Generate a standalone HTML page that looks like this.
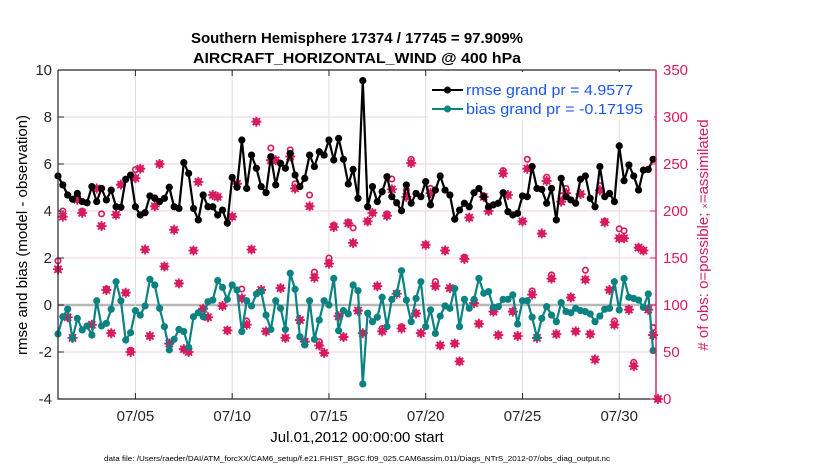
<!DOCTYPE html>
<html><head><meta charset="utf-8"><style>
html,body{margin:0;padding:0;background:#fff;}
svg{display:block;font-family:"Liberation Sans",Helvetica,Arial,sans-serif;}
</style></head><body>
<svg id="chart" width="830" height="470" viewBox="0 0 830 470" xmlns="http://www.w3.org/2000/svg">
<text x="357" y="43" text-anchor="middle" font-size="14.5" font-weight="bold" fill="#000" textLength="332" lengthAdjust="spacingAndGlyphs">Southern Hemisphere 17374 / 17745 = 97.909%</text>
<text x="357" y="63" text-anchor="middle" font-size="14.5" font-weight="bold" fill="#000" textLength="328" lengthAdjust="spacingAndGlyphs">AIRCRAFT_HORIZONTAL_WIND @ 400 hPa</text>
<g id="grid"></g>
<g id="marks"></g>
<g id="axes"></g>
<text transform="translate(27,235) rotate(-90)" text-anchor="middle" font-size="15" fill="#000">rmse and bias (model - observation)</text>
<text transform="translate(708,235) rotate(-90)" text-anchor="middle" font-size="15" fill="#d81b60"># of obs: o=possible; <tspan font-size="9">×</tspan>=assimilated</text>
<text x="357" y="442" text-anchor="middle" font-size="15" fill="#000">Jul.01,2012 00:00:00 start</text>
<text x="357" y="461" text-anchor="middle" font-size="7.5" fill="#000" textLength="506" lengthAdjust="spacingAndGlyphs">data file: /Users/raeder/DAI/ATM_forcXX/CAM6_setup/f.e21.FHIST_BGC.f09_025.CAM6assim.011/Diags_NTrS_2012-07/obs_diag_output.nc</text>
<g>
<rect x="428" y="72" width="226" height="48" fill="#fff"/>
<line x1="432" y1="90" x2="463" y2="90" stroke="#000" stroke-width="2"/>
<circle cx="447.5" cy="90" r="3.5" fill="#000"/>
<text x="466" y="95" font-size="15" fill="#1a56f0" textLength="167" lengthAdjust="spacingAndGlyphs">rmse grand pr = 4.9577</text>
<line x1="432" y1="109" x2="463" y2="109" stroke="#0b8282" stroke-width="2"/>
<circle cx="447.5" cy="109" r="3.5" fill="#0b8282"/>
<text x="466" y="114" font-size="15" fill="#1a56f0" textLength="177" lengthAdjust="spacingAndGlyphs">bias grand pr = -0.17195</text>
</g>
</svg>
<script>
var rmse=[5.49,5.11,4.68,4.50,4.75,4.40,4.35,5.04,4.40,4.96,4.47,4.89,4.18,4.16,5.35,5.53,4.18,3.83,3.93,4.64,4.54,4.40,4.54,5.01,4.18,4.11,6.06,5.60,4.11,3.62,4.68,4.18,4.18,3.83,4.04,3.48,5.43,5.01,7.02,4.96,6.38,5.82,5.04,
4.78,6.31,5.11,6.03,5.82,6.45,5.53,5.04,5.39,6.38,5.89,6.52,6.38,7.02,6.17,7.09,6.20,5.15,5.77,4.54,9.55,4.18,5.04,4.40,4.82,5.46,4.61,4.35,4.01,5.11,4.33,4.75,4.61,5.25,4.26,4.89,5.49,4.89,4.68,3.65,4.04,
4.33,4.18,4.78,4.96,4.61,4.18,4.26,4.33,4.78,3.97,3.83,3.90,4.64,4.61,5.89,4.96,4.92,4.33,4.96,3.62,5.39,4.61,4.47,4.33,5.35,5.49,4.54,4.18,5.89,4.61,4.75,4.40,6.77,5.29,5.96,5.49,4.89,5.74,5.77,6.20];
var bias=[-1.23,-0.50,-0.18,-1.42,-0.57,-1.06,-0.89,-1.28,0.18,-0.89,-0.78,-0.18,0.99,0.18,-1.49,-1.18,-0.24,-0.43,-0.04,1.09,0.85,-0.14,-0.92,-1.91,-1.46,-1.04,-1.13,-1.80,-0.50,-0.33,-0.50,0.14,0.21,1.04,0.75,0.24,0.85,0.64,-1.13,0.18,-0.04,0.47,0.57,
-0.43,-1.04,0.18,-0.14,-1.04,1.35,0.67,-1.35,-1.70,0.18,-1.46,-0.64,0.18,0.00,1.13,-1.09,-0.24,-0.38,0.85,0.61,-3.36,-0.35,-0.71,-0.52,0.33,-0.92,0.24,0.50,1.46,0.21,-0.71,0.28,0.99,-0.92,-0.21,-1.21,-0.47,-0.04,-0.14,0.70,-0.92,
0.24,-0.14,0.24,1.13,0.50,0.57,-0.10,-0.07,0.24,0.24,0.43,-0.81,0.18,0.18,-0.52,-1.38,-0.57,-0.07,-0.43,-0.71,0.10,-0.28,-0.33,-0.14,-0.24,-0.28,-0.38,-0.71,-0.47,-0.18,-0.14,0.99,-0.21,1.13,0.33,0.28,0.21,-0.10,0.47,-1.94];
var obsUsed=[138,194,87,65,212,198,null,79,224,184,116,70,196,228,113,50,235,245,159,67,205,250,141,59,180,123,53,50,158,231,96,87,217,215,99,73,194,229,107,79,159,295,116,
72,254,254,118,65,258,224,84,61,205,129,57,49,144,183,88,66,187,166,94,70,189,198,120,72,195,223,112,75,215,251,91,70,164,219,120,57,158,118,59,40,
149,193,102,80,215,200,93,68,240,217,93,67,189,245,111,65,176,232,128,69,210,219,108,72,218,127,69,42,222,188,116,79,171,171,95,35,161,158,95,68,0];
var obsPoss=[147,200,87,65,217,200,null,79,224,197,117,70,196,228,113,52,244,245,159,67,214,250,141,59,180,123,53,50,158,231,96,87,217,215,99,73,194,229,117,83,159,295,116,
72,267,254,118,65,265,229,84,61,217,135,61,49,150,185,88,66,188,182,94,70,189,198,120,75,197,234,112,77,222,255,91,70,164,224,125,57,158,118,59,40,
151,193,102,80,216,200,93,68,243,217,93,67,189,255,115,65,176,236,132,69,216,224,108,72,218,137,69,42,227,189,116,83,181,179,96,39,161,158,96,76,0];
var xTickDays=[4,9,14,19,24,29];
var xTickLabels=["07/05","07/10","07/15","07/20","07/25","07/30"];
var yLeftTicks=[-4,-2,0,2,4,6,8,10];
var yRightTicks=[0,50,100,150,200,250,300,350];
var stepDays=0.25;

var L=58,R=656,T=70,B=399,XMAX=30.9;
function xs(d){return L+d/XMAX*(R-L);}
function yl(v){return B-(v+4)/14*(B-T);}
function yr(v){return B-v/350*(B-T);}
var NS="http://www.w3.org/2000/svg";
function mk(tag,attrs,parent){var e=document.createElementNS(NS,tag);for(var k in attrs)e.setAttribute(k,attrs[k]);parent.appendChild(e);return e;}
var grid=document.getElementById('grid'),marks=document.getElementById('marks'),axes=document.getElementById('axes');

yLeftTicks.forEach(function(v){
  if(v===-4||v===10)return;
  var g=mk('line',{x1:L,x2:R,y1:yl(v),y2:yl(v),stroke:v===0?'#b8b8b8':'#f3cfe0','stroke-width':v===0?2.5:1},grid);
  
  
});
xTickDays.forEach(function(d){
  var g=mk('line',{x1:xs(d),x2:xs(d),y1:T,y2:B,stroke:'#dcdcdc','stroke-width':1},grid);
  
  
});

var pink='#d81b60';
obsPoss.forEach(function(v,i){
  if(v===null)return;
  var c=mk('circle',{cx:xs(i*stepDays),cy:yr(v),r:2.7,fill:'none',stroke:pink,'stroke-width':1.7},marks);
  
  
});
obsUsed.forEach(function(v,i){
  if(v===null)return;
  var x=xs(i*stepDays),y=yr(v);
  var g=mk('g',{},marks);
  
  
  mk('circle',{cx:x,cy:y,r:3.6,fill:pink},g);
  mk('path',{d:'M'+(x-5)+' '+y+'h10M'+x+' '+(y-5)+'v10M'+(x-3.6)+' '+(y-3.6)+'l7.2 7.2M'+(x-3.6)+' '+(y+3.6)+'l7.2 -7.2',stroke:pink,'stroke-width':1.8},g);
});

function series(arr,color,name){
  var d=arr.map(function(v,i){return (i?'L':'M')+xs(i*stepDays).toFixed(1)+' '+yl(v).toFixed(1);}).join('');
  var p=mk('path',{d:d,fill:'none',stroke:color,'stroke-width':2.2,'stroke-linejoin':'round'},marks);
  
  
  arr.forEach(function(v,i){
    var c=mk('circle',{cx:xs(i*stepDays),cy:yl(v),r:3.6,fill:color},marks);
    
    
  });
}
series(bias,'#0b8282','bias');
series(rmse,'#000000','rmse');

var a;
a=mk('path',{d:'M'+L+' '+T+'V'+B+'H'+R,fill:'none',stroke:'#262626','stroke-width':1.2},axes);


a=mk('line',{x1:L,x2:R,y1:T,y2:T,stroke:'#262626','stroke-width':1.2},axes);


a=mk('line',{x1:R,x2:R,y1:T,y2:B,stroke:pink,'stroke-width':1.4},axes);


xTickDays.forEach(function(d,i){
  mk('line',{x1:xs(d),x2:xs(d),y1:B,y2:B-6,stroke:'#262626'},axes);
  mk('line',{x1:xs(d),x2:xs(d),y1:T,y2:T+6,stroke:'#262626'},axes);
  var t=mk('text',{x:xs(d),y:B+22,'text-anchor':'middle','font-size':15,fill:'#262626'},axes);
  t.textContent=xTickLabels[i];
  
  
});
yLeftTicks.forEach(function(v){
  mk('line',{x1:L,x2:L+6,y1:yl(v),y2:yl(v),stroke:'#262626'},axes);
  var t=mk('text',{x:L-6,y:yl(v)+5,'text-anchor':'end','font-size':15,fill:'#262626'},axes);
  t.textContent=v;
  
  
});
yRightTicks.forEach(function(v){
  mk('line',{x1:R,x2:R-6,y1:yr(v),y2:yr(v),stroke:pink},axes);
  var t=mk('text',{x:R+7,y:yr(v)+5,'text-anchor':'start','font-size':15,fill:pink},axes);
  t.textContent=v;
  
  
});
</script>
</body></html>
